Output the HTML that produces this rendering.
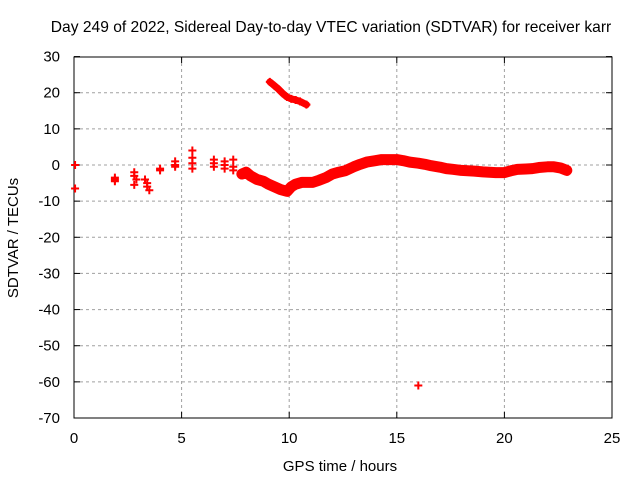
<!DOCTYPE html>
<html><head><meta charset="utf-8"><style>
body{margin:0;background:#fff;font-family:"Liberation Sans",sans-serif}
svg text{font-family:"Liberation Sans",sans-serif;font-size:15px;fill:#000}
</style></head><body>
<svg id="chart" width="640" height="480" xmlns="http://www.w3.org/2000/svg">
<rect width="640" height="480" fill="#fff"/>
<text x="331" y="32" text-anchor="middle" style="font-size:15.6px">Day 249 of 2022, Sidereal Day-to-day VTEC variation (SDTVAR) for receiver karr</text>
<text x="340" y="471" text-anchor="middle">GPS time / hours</text>
<text transform="translate(18,238) rotate(-90)" text-anchor="middle">SDTVAR / TECUs</text>
<g id="grid"></g><g id="axes"></g><g id="marks"></g>
</svg>
<script>
const xTicks=[0,5,10,15,20,25];
const yTicks=[30,20,10,0,-10,-20,-30,-40,-50,-60,-70];
const scatterT=[0.05,0.05,1.9,1.9,1.9,2.8,2.8,2.9,2.8,3.3,3.4,3.4,3.5,4.0,4.0,4.7,4.7,4.7,5.5,5.5,5.5,5.5,6.5,6.5,6.5,7.0,7.0,7.0,7.4,7.4,7.4,16.0];
const scatterV=[0,-6.5,-3.5,-4,-4.5,-2,-3,-4,-5.5,-4,-5,-6,-7,-1.5,-1,1,0,-0.5,4,2,0.5,-1,1.5,0.5,-0.5,1,0,-1,1.5,-0.5,-1.5,-61];
const mainT=[7.8,8.0,8.2,8.5,8.8,9.0,9.3,9.6,9.9,10.1,10.3,10.6,10.8,11.1,11.4,11.7,12.0,12.3,12.6,13.0,13.3,13.6,14.0,14.3,14.6,15.0,15.3,15.6,16.0,16.3,16.6,17.0,17.3,17.6,18.0,18.3,18.6,19.0,19.3,19.6,20.0,20.3,20.6,21.0,21.3,21.6,22.0,22.3,22.6,22.9];
const mainV=[-2.5,-2,-3,-4,-4.5,-5.2,-6,-6.8,-7.3,-6,-5.3,-4.8,-4.8,-4.8,-4.2,-3.5,-2.5,-2,-1.6,-0.5,0.2,0.8,1.2,1.5,1.5,1.5,1.2,0.8,0.5,0.2,-0.2,-0.6,-1,-1.2,-1.5,-1.6,-1.7,-1.9,-2,-2.1,-2.1,-1.6,-1.2,-1.1,-1,-0.7,-0.5,-0.5,-0.8,-1.5];
const arcT=[9.1,9.3,9.5,9.7,9.9,10.1,10.3,10.5,10.8];
const arcV=[23,22,21,19.8,18.8,18.3,18,17.6,16.7];
const X=t=>74+(t-0)*(612-74)/25;
const Y=v=>165-v*(418-165)/70;
const NS="http://www.w3.org/2000/svg";
function mk(tag,parent,attrs){const e=document.createElementNS(NS,tag);for(const k in attrs)e.setAttribute(k,attrs[k]);parent.appendChild(e);return e;}
const grid=document.getElementById('grid'),axes=document.getElementById('axes'),marks=document.getElementById('marks');
xTicks.forEach(t=>{
 if(t>0&&t<25){const l=mk('line',grid,{x1:X(t),x2:X(t),y1:57,y2:418,stroke:'#a0a0a0','stroke-dasharray':'3,3'});
 
 }
 const tx=mk('text',axes,{x:X(t),y:443,'text-anchor':'middle'});tx.textContent=t;
 
 
 mk('line',axes,{x1:X(t),x2:X(t),y1:418,y2:412,stroke:'#000'});
 mk('line',axes,{x1:X(t),x2:X(t),y1:57,y2:63,stroke:'#000'});
});
yTicks.forEach(v=>{
 if(v<30&&v>-70){const l=mk('line',grid,{x1:74,x2:612,y1:Y(v),y2:Y(v),stroke:'#a0a0a0','stroke-dasharray':'3,3'});
 
 }
 const tx=mk('text',axes,{x:60,y:Y(v)+5,'text-anchor':'end'});tx.textContent=v;
 
 
 mk('line',axes,{x1:74,x2:80,y1:Y(v),y2:Y(v),stroke:'#000'});
 mk('line',axes,{x1:612,x2:606,y1:Y(v),y2:Y(v),stroke:'#000'});
});
const fr=mk('rect',axes,{x:74,y:57,width:538,height:361,fill:'none',stroke:'#000'});


function band(ts,vs,name,w){
 const pl=mk('polyline',marks,{points:ts.map((t,i)=>X(t)+','+Y(vs[i])).join(' '),fill:'none',stroke:'#f00','stroke-width':w,'stroke-linejoin':'round','stroke-linecap':'round'});
 
 
}
function plus(t,v){
 const p=mk('path',marks,{d:`M${X(t)-4},${Y(v)}h8M${X(t)},${Y(v)-4}v8`,stroke:'#f00','stroke-width':2,fill:'none'});
 
 
}
band(mainT,mainV,'main-series-band',11);
band(arcT,arcV,'upper-arc-band',7);
mainT.forEach((t,i)=>plus(t,mainV[i]));
arcT.forEach((t,i)=>plus(t,arcV[i]));
scatterT.forEach((t,i)=>plus(t,scatterV[i]));
</script>
</body></html>
